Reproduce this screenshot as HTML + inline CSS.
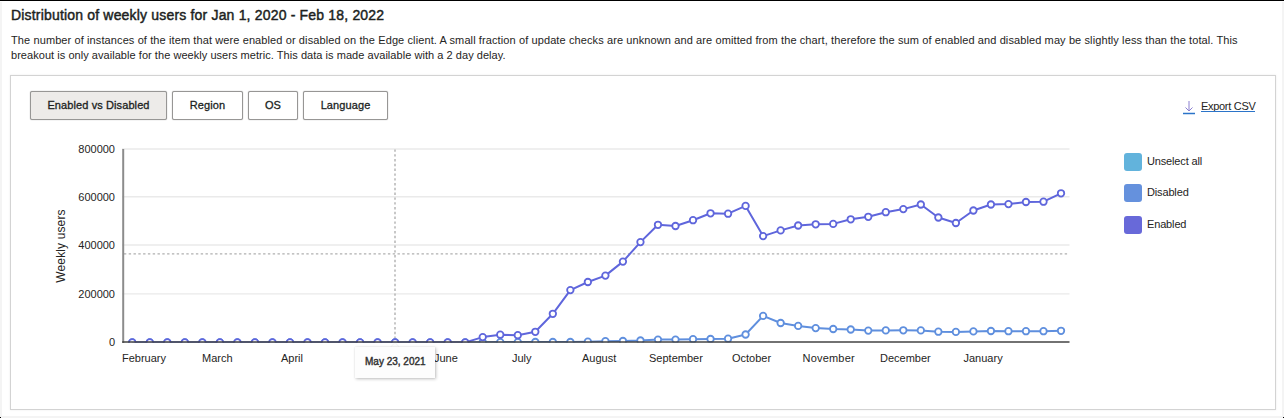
<!DOCTYPE html>
<html><head><meta charset="utf-8"><style>
*{margin:0;padding:0;box-sizing:border-box}
html,body{width:1284px;height:418px;overflow:hidden;background:#fff;font-family:"Liberation Sans",sans-serif;color:#252423}
.abs{position:absolute;white-space:nowrap}
.topline{position:absolute;left:0;top:0;width:1284px;height:1px;background:#000}
.lstrip{position:absolute;left:0;top:2px;width:2px;height:414px;background:#f4f4f4}
.rstrip{position:absolute;left:1282px;top:2px;width:2px;height:414px;background:#f4f4f4}
.bstrip{position:absolute;left:0;top:416px;width:1284px;height:2px;background:#f4f4f4}
.dotl{position:absolute;left:0;top:417px;width:1px;height:1px;background:#000}
.dotr{position:absolute;left:1283px;top:417px;width:1px;height:1px;background:#000}
.box{position:absolute;left:10px;top:75px;width:1266px;height:335px;border:1px solid #d3d3d3;box-shadow:0 0 2px rgba(0,0,0,.08)}
.title{left:11px;top:7px;font-size:14px;font-weight:normal;-webkit-text-stroke:0.45px #201f1e;color:#201f1e;letter-spacing:0.18px}
.desc{left:11px;font-size:11px;color:#252423}
.btn{position:absolute;top:91px;height:29px;border:1px solid #979695;border-radius:2px;background:#fff;font-size:11px;font-weight:normal;-webkit-text-stroke:0.3px #201f1e;color:#201f1e;text-align:center;line-height:27px;letter-spacing:0.1px;box-shadow:0 0 1px rgba(0,0,0,.45)}
.btn.sel{background:#edebe9}
.ylab{font-size:11px;color:#252423;text-align:right;width:60px;margin-top:1px}
.xlab{font-size:11px;color:#252423}
.leg{position:absolute;left:1124px;width:18px;height:18px;border-radius:3px}
.legt{left:1147px;font-size:11px;color:#252423;letter-spacing:-0.15px}
.chart{position:absolute;left:0;top:0}
.tip{position:absolute;left:355px;top:347px;width:80px;height:31px;background:#fdfdfd;box-shadow:1px 1px 3px rgba(0,0,0,.25),0 0 1px rgba(0,0,0,.1)}
.beak{position:absolute;left:392px;top:344px;width:6px;height:6px;background:#fdfdfd;transform:rotate(45deg);box-shadow:0 0 1px rgba(0,0,0,.15)}
.tipt{font-size:10px;font-weight:normal;-webkit-text-stroke:0.4px #303030;color:#303030;letter-spacing:0.0px}
</style></head><body>
<div class="topline"></div><div class="lstrip"></div><div class="rstrip"></div><div class="bstrip"></div>
<div class="dotl"></div><div class="dotr"></div>
<div class="abs title">Distribution of weekly users for Jan 1, 2020 - Feb 18, 2022</div>
<div class="abs desc" style="top:34px;letter-spacing:0.105px">The number of instances of the item that were enabled or disabled on the Edge client. A small fraction of update checks are unknown and are omitted from the chart, therefore the sum of enabled and disabled may be slightly less than the total. This</div>
<div class="abs desc" style="top:49px;letter-spacing:0.045px">breakout is only available for the weekly users metric. This data is made available with a 2 day delay.</div>
<div class="box"></div>
<div class="btn sel" style="left:30px;width:137px">Enabled vs Disabled</div>
<div class="btn" style="left:172px;width:71px">Region</div>
<div class="btn" style="left:248px;width:50px">OS</div>
<div class="btn" style="left:303px;width:85px">Language</div>
<div class="abs" style="left:1183px;top:99px;font-size:12px;color:#252423">
<svg width="12" height="16" style="position:absolute;left:0;top:0"><path d="M6 2 V12 M2.5 8.5 L6 12 L9.5 8.5" stroke="#8a7fd0" stroke-width="1" fill="none"/><line x1="0" y1="14.5" x2="12" y2="14.5" stroke="#2b74c9" stroke-width="1.5"/></svg>
<span style="position:absolute;left:18px;top:0.8px;font-size:11px;letter-spacing:-0.3px;">Export CSV</span><div style="position:absolute;left:18.3px;top:12px;width:53.6px;height:1.2px;background:#2b74c9"></div></div>
<div class="abs ylab" style="left:55px;top:142px">800000</div>
<div class="abs ylab" style="left:55px;top:190px">600000</div>
<div class="abs ylab" style="left:55px;top:238px">400000</div>
<div class="abs ylab" style="left:55px;top:287px">200000</div>
<div class="abs ylab" style="left:55px;top:335px">0</div>
<div class="abs" style="left:61px;top:246px;font-size:12px;letter-spacing:0.13px;color:#252423;transform:translate(-50%,-50%) rotate(-90deg)">Weekly users</div>
<svg class="chart" width="1284" height="418" viewBox="0 0 1284 418">
<defs><clipPath id="plot"><rect x="118" y="140" width="960" height="202.60"/></clipPath></defs>
<g stroke="#eaeaea" stroke-width="1.4"><line x1="122" y1="148.95" x2="1069.5" y2="148.95"/><line x1="122" y1="196.8" x2="1069.5" y2="196.8"/><line x1="122" y1="244.96" x2="1069.5" y2="244.96"/><line x1="122" y1="293.9" x2="1069.5" y2="293.9"/></g>
<line x1="395" y1="149.4" x2="395" y2="342" stroke="#b0b0b0" stroke-width="1.4" stroke-dasharray="2.4 2.4"/>
<line x1="123.9" y1="253.9" x2="1069" y2="253.9" stroke="#b0b0b0" stroke-width="1.4" stroke-dasharray="2.4 2.4"/>
<g clip-path="url(#plot)">
<polyline points="132.25,342.40 149.77,342.40 167.30,342.40 184.82,342.40 202.35,342.40 219.87,342.40 237.39,342.40 254.92,342.40 272.44,342.40 289.97,342.40 307.49,342.40 325.01,342.40 342.54,342.40 360.06,342.40 377.59,342.40 395.11,342.40 412.63,342.40 430.16,342.40 447.68,342.40 465.21,342.40 482.73,342.20 500.25,342.10 517.78,342.10 535.30,342.00 552.83,342.00 570.35,342.00 587.87,341.70 605.40,341.20 622.92,341.00 640.45,340.50 657.97,339.60 675.49,339.60 693.02,339.20 710.54,339.00 728.07,338.70 745.59,334.50 763.11,315.90 780.64,323.00 798.16,325.90 815.69,328.10 833.21,329.00 850.73,329.50 868.26,330.60 885.78,330.40 903.31,330.30 920.83,330.40 938.35,331.70 955.88,331.90 973.40,331.40 990.93,331.00 1008.45,331.20 1025.97,331.20 1043.50,331.20 1061.02,330.80" fill="none" stroke="#5f8fde" stroke-width="2" stroke-linejoin="round"/>
<g fill="#fff" stroke="#5f8fde" stroke-width="1.8"><circle cx="132.25" cy="342.40" r="3.25"/><circle cx="149.77" cy="342.40" r="3.25"/><circle cx="167.30" cy="342.40" r="3.25"/><circle cx="184.82" cy="342.40" r="3.25"/><circle cx="202.35" cy="342.40" r="3.25"/><circle cx="219.87" cy="342.40" r="3.25"/><circle cx="237.39" cy="342.40" r="3.25"/><circle cx="254.92" cy="342.40" r="3.25"/><circle cx="272.44" cy="342.40" r="3.25"/><circle cx="289.97" cy="342.40" r="3.25"/><circle cx="307.49" cy="342.40" r="3.25"/><circle cx="325.01" cy="342.40" r="3.25"/><circle cx="342.54" cy="342.40" r="3.25"/><circle cx="360.06" cy="342.40" r="3.25"/><circle cx="377.59" cy="342.40" r="3.25"/><circle cx="395.11" cy="342.40" r="3.25"/><circle cx="412.63" cy="342.40" r="3.25"/><circle cx="430.16" cy="342.40" r="3.25"/><circle cx="447.68" cy="342.40" r="3.25"/><circle cx="465.21" cy="342.40" r="3.25"/><circle cx="482.73" cy="342.20" r="3.25"/><circle cx="500.25" cy="342.10" r="3.25"/><circle cx="517.78" cy="342.10" r="3.25"/><circle cx="535.30" cy="342.00" r="3.25"/><circle cx="552.83" cy="342.00" r="3.25"/><circle cx="570.35" cy="342.00" r="3.25"/><circle cx="587.87" cy="341.70" r="3.25"/><circle cx="605.40" cy="341.20" r="3.25"/><circle cx="622.92" cy="341.00" r="3.25"/><circle cx="640.45" cy="340.50" r="3.25"/><circle cx="657.97" cy="339.60" r="3.25"/><circle cx="675.49" cy="339.60" r="3.25"/><circle cx="693.02" cy="339.20" r="3.25"/><circle cx="710.54" cy="339.00" r="3.25"/><circle cx="728.07" cy="338.70" r="3.25"/><circle cx="745.59" cy="334.50" r="3.25"/><circle cx="763.11" cy="315.90" r="3.25"/><circle cx="780.64" cy="323.00" r="3.25"/><circle cx="798.16" cy="325.90" r="3.25"/><circle cx="815.69" cy="328.10" r="3.25"/><circle cx="833.21" cy="329.00" r="3.25"/><circle cx="850.73" cy="329.50" r="3.25"/><circle cx="868.26" cy="330.60" r="3.25"/><circle cx="885.78" cy="330.40" r="3.25"/><circle cx="903.31" cy="330.30" r="3.25"/><circle cx="920.83" cy="330.40" r="3.25"/><circle cx="938.35" cy="331.70" r="3.25"/><circle cx="955.88" cy="331.90" r="3.25"/><circle cx="973.40" cy="331.40" r="3.25"/><circle cx="990.93" cy="331.00" r="3.25"/><circle cx="1008.45" cy="331.20" r="3.25"/><circle cx="1025.97" cy="331.20" r="3.25"/><circle cx="1043.50" cy="331.20" r="3.25"/><circle cx="1061.02" cy="330.80" r="3.25"/></g>
<polyline points="132.25,342.40 149.77,342.40 167.30,342.40 184.82,342.40 202.35,342.40 219.87,342.40 237.39,342.40 254.92,342.40 272.44,342.40 289.97,342.40 307.49,342.40 325.01,342.40 342.54,342.40 360.06,342.40 377.59,342.40 395.11,342.40 412.63,342.40 430.16,342.40 447.68,342.40 465.21,342.40 482.73,337.10 500.25,334.70 517.78,335.20 535.30,331.80 552.83,313.80 570.35,290.10 587.87,282.00 605.40,275.60 622.92,261.60 640.45,242.10 657.97,224.80 675.49,226.00 693.02,220.20 710.54,213.30 728.07,213.70 745.59,205.90 763.11,236.10 780.64,230.40 798.16,225.50 815.69,224.30 833.21,223.90 850.73,219.30 868.26,216.80 885.78,212.20 903.31,209.10 920.83,204.50 938.35,217.50 955.88,223.00 973.40,210.50 990.93,204.50 1008.45,204.10 1025.97,202.00 1043.50,201.70 1061.02,193.30" fill="none" stroke="#5f66dc" stroke-width="2" stroke-linejoin="round"/>
<g fill="#fff" stroke="#5f66dc" stroke-width="1.8"><circle cx="132.25" cy="342.40" r="3.25"/><circle cx="149.77" cy="342.40" r="3.25"/><circle cx="167.30" cy="342.40" r="3.25"/><circle cx="184.82" cy="342.40" r="3.25"/><circle cx="202.35" cy="342.40" r="3.25"/><circle cx="219.87" cy="342.40" r="3.25"/><circle cx="237.39" cy="342.40" r="3.25"/><circle cx="254.92" cy="342.40" r="3.25"/><circle cx="272.44" cy="342.40" r="3.25"/><circle cx="289.97" cy="342.40" r="3.25"/><circle cx="307.49" cy="342.40" r="3.25"/><circle cx="325.01" cy="342.40" r="3.25"/><circle cx="342.54" cy="342.40" r="3.25"/><circle cx="360.06" cy="342.40" r="3.25"/><circle cx="377.59" cy="342.40" r="3.25"/><circle cx="395.11" cy="342.40" r="3.25"/><circle cx="412.63" cy="342.40" r="3.25"/><circle cx="430.16" cy="342.40" r="3.25"/><circle cx="447.68" cy="342.40" r="3.25"/><circle cx="465.21" cy="342.40" r="3.25"/><circle cx="482.73" cy="337.10" r="3.25"/><circle cx="500.25" cy="334.70" r="3.25"/><circle cx="517.78" cy="335.20" r="3.25"/><circle cx="535.30" cy="331.80" r="3.25"/><circle cx="552.83" cy="313.80" r="3.25"/><circle cx="570.35" cy="290.10" r="3.25"/><circle cx="587.87" cy="282.00" r="3.25"/><circle cx="605.40" cy="275.60" r="3.25"/><circle cx="622.92" cy="261.60" r="3.25"/><circle cx="640.45" cy="242.10" r="3.25"/><circle cx="657.97" cy="224.80" r="3.25"/><circle cx="675.49" cy="226.00" r="3.25"/><circle cx="693.02" cy="220.20" r="3.25"/><circle cx="710.54" cy="213.30" r="3.25"/><circle cx="728.07" cy="213.70" r="3.25"/><circle cx="745.59" cy="205.90" r="3.25"/><circle cx="763.11" cy="236.10" r="3.25"/><circle cx="780.64" cy="230.40" r="3.25"/><circle cx="798.16" cy="225.50" r="3.25"/><circle cx="815.69" cy="224.30" r="3.25"/><circle cx="833.21" cy="223.90" r="3.25"/><circle cx="850.73" cy="219.30" r="3.25"/><circle cx="868.26" cy="216.80" r="3.25"/><circle cx="885.78" cy="212.20" r="3.25"/><circle cx="903.31" cy="209.10" r="3.25"/><circle cx="920.83" cy="204.50" r="3.25"/><circle cx="938.35" cy="217.50" r="3.25"/><circle cx="955.88" cy="223.00" r="3.25"/><circle cx="973.40" cy="210.50" r="3.25"/><circle cx="990.93" cy="204.50" r="3.25"/><circle cx="1008.45" cy="204.10" r="3.25"/><circle cx="1025.97" cy="202.00" r="3.25"/><circle cx="1043.50" cy="201.70" r="3.25"/><circle cx="1061.02" cy="193.30" r="3.25"/></g>
</g>
<line x1="123.2" y1="149" x2="123.2" y2="343" stroke="#8c8c8c" stroke-width="2"/>
<line x1="122.2" y1="342.0" x2="1069.5" y2="342.0" stroke="rgba(60,60,60,0.72)" stroke-width="1.8"/>
</svg>
<div class="abs xlab" style="left:122px;top:352px">February</div>
<div class="abs xlab" style="left:202px;top:352px">March</div>
<div class="abs xlab" style="left:281px;top:352px">April</div>
<div class="abs xlab" style="left:434px;top:352px">June</div>
<div class="abs xlab" style="left:512px;top:352px">July</div>
<div class="abs xlab" style="left:582px;top:352px">August</div>
<div class="abs xlab" style="left:649px;top:352px">September</div>
<div class="abs xlab" style="left:732px;top:352px">October</div>
<div class="abs xlab" style="left:802.5px;top:352px;letter-spacing:0.2px">November</div>
<div class="abs xlab" style="left:880px;top:352px">December</div>
<div class="abs xlab" style="left:963.5px;top:352px">January</div>
<div class="beak"></div><div class="tip"></div>
<div class="abs tipt" style="left:365px;top:356px">May 23, 2021</div>
<div class="leg" style="top:153px;background:#62b3dc"></div>
<div class="leg" style="top:184px;background:#6591dd"></div>
<div class="leg" style="top:216px;background:#6869d9"></div>
<div class="abs legt" style="top:155px">Unselect all</div>
<div class="abs legt" style="top:186px">Disabled</div>
<div class="abs legt" style="top:218px">Enabled</div>
</body></html>
